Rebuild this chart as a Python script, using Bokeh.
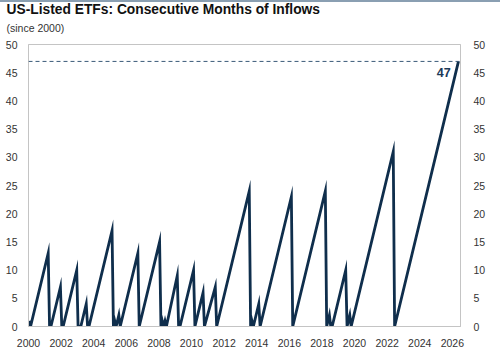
from bokeh.plotting import figure
from bokeh.models import Range1d, LinearAxis, Span, Label, Title, FixedTicker, Div
from bokeh.layouts import column
from bokeh.embed import file_html
from bokeh.resources import INLINE

# Corner points of the monthly "consecutive months of inflows" counter (YYYY-MM, count)
dates = ["2000-01", "2000-02", "2001-03", "2001-04", "2001-05", "2001-12", "2002-01", "2002-02",
         "2002-12", "2003-01", "2003-03", "2003-07", "2003-08", "2003-09", "2005-02", "2005-03",
         "2005-04", "2005-05", "2005-06", "2005-07", "2005-08", "2006-09", "2006-10", "2008-01",
         "2008-02", "2008-03", "2008-04", "2008-05", "2008-06", "2009-02", "2009-03", "2009-04",
         "2010-02", "2010-03", "2010-09", "2010-10", "2011-06", "2011-07", "2013-07", "2013-08",
         "2013-09", "2013-10", "2014-02", "2014-03", "2016-02", "2016-03", "2018-03", "2018-04",
         "2018-06", "2018-07", "2018-08", "2019-06", "2019-07", "2019-09", "2019-10", "2022-05",
         "2022-06", "2026-05"]
months = [1, 0, 13, 0, 0, 7, 0, 0,
          10, 0, 0, 4, 0, 0, 17, 0,
          1, 0, 1, 2, 0, 13, 0, 15,
          0, 1, 0, 1, 0, 9, 0, 0,
          10, 0, 6, 0, 7, 0, 24, 0,
          1, 0, 4, 0, 23, 0, 24, 0,
          2, 0, 0, 10, 0, 2, 0, 31,
          0, 47]
title = "US-Listed ETFs: Consecutive Months of Inflows"
subtitle = "(since 2000)"
current_label = "47"
current_value = 47
y_ticks = [0, 5, 10, 15, 20, 25, 30, 35, 40, 45, 50]
x_ticks = [2000, 2002, 2004, 2006, 2008, 2010, 2012, 2014, 2016, 2018, 2020, 2022, 2024, 2026]

xs = [int(d[:4]) + (int(d[5:]) - 0.5) / 12 for d in dates]

FONT = "Liberation Sans"
LINE = "#0f2e4c"

p = figure(frame_width=432, frame_height=282,
           min_border_left=28, min_border_right=40, min_border_top=42, min_border_bottom=25,
           x_range=Range1d(2000, 2026.5), y_range=Range1d(0, 50),
           output_backend="svg", toolbar_location=None)

p.add_layout(Title(text=subtitle, text_font=FONT, text_font_size="10.5px",
                   text_font_style="normal", text_color="#333333",
                   offset=-22, standoff=21), "above")
p.add_layout(Title(text=title, text_font=FONT, text_font_size="13.8px",
                   text_font_style="bold", text_color="#111111",
                   offset=-22, standoff=-15), "above")

p.line(xs, months, line_color=LINE, line_width=2.8, line_join="miter")

p.add_layout(Span(location=current_value, dimension="width", line_color="#3a5a78",
                  line_dash="4 3", line_width=1))
p.add_layout(Label(x=2025.9, y=current_value - 1.2, text=current_label,
                   text_font=FONT, text_font_size="12.5px", text_font_style="bold",
                   text_color="#1b3a58", text_align="right", text_baseline="top"))

p.xgrid.visible = False
p.ygrid.visible = False
p.outline_line_color = "#c4c4c4"
p.outline_line_width = 1
p.background_fill_color = "white"
p.border_fill_color = "white"

p.xaxis.ticker = FixedTicker(ticks=x_ticks)
p.yaxis.ticker = FixedTicker(ticks=y_ticks)

right = LinearAxis(ticker=FixedTicker(ticks=y_ticks))
p.add_layout(right, "right")

for ax in p.axis:
    ax.axis_line_color = "#c4c4c4"
    ax.major_tick_line_color = None
    ax.minor_tick_line_color = None
    ax.major_label_text_font = FONT
    ax.major_label_text_font_size = "10.5px"
    ax.major_label_text_color = "#333333"
p.yaxis[0].major_label_standoff = 5
right.major_label_standoff = 7
p.xaxis.major_label_standoff = 6

bar = Div(width=500, height=2, styles={"background-color": "#8a9fb2", "margin": "0"})
layout = column(bar, p, spacing=0)

open("out.html", "w").write(file_html(layout, INLINE))
